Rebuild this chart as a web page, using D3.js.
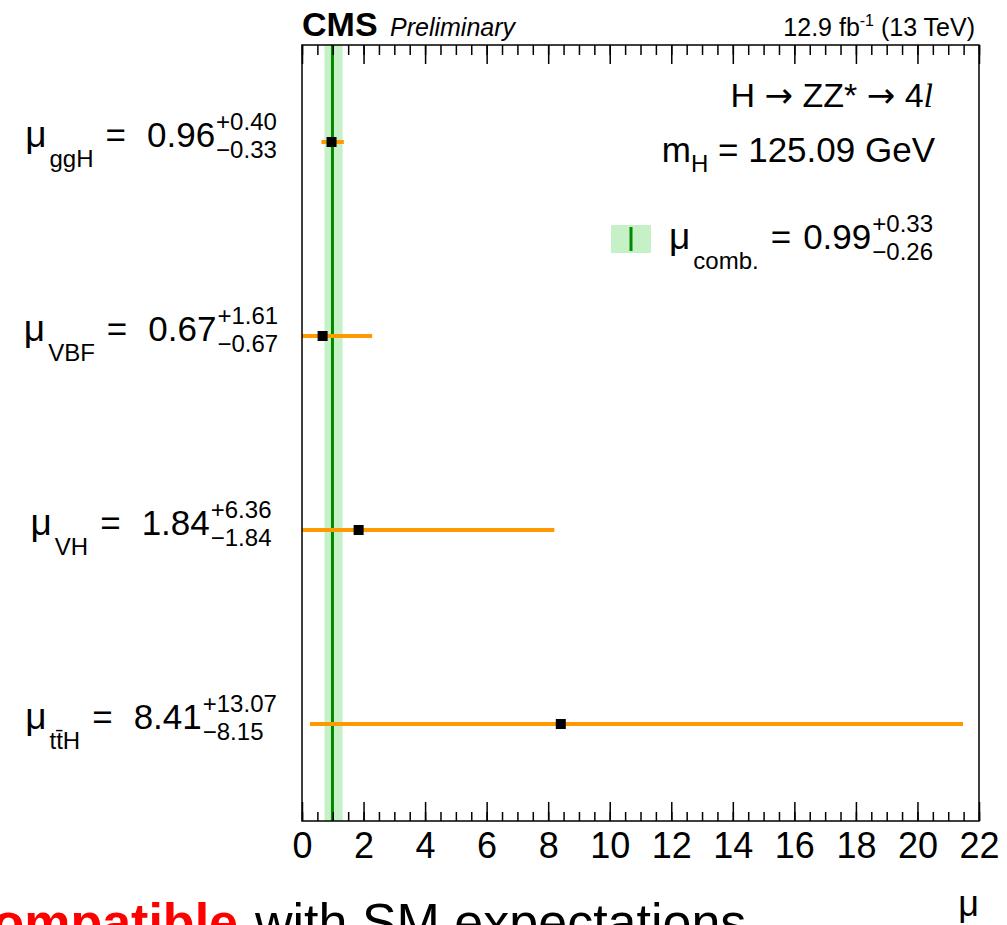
<!DOCTYPE html>
<html>
<head>
<meta charset="utf-8">
<script src="https://cdn.jsdelivr.net/npm/d3@7"></script>
<style>
  body { margin: 0; background: #fff; }
  svg { display: block; font-family: "Liberation Sans", Arial, sans-serif; }
</style>
</head>
<body>
<svg id="chart" width="1007" height="925"></svg>
<script>
// signal strengths per production mode
var categories = ["ggH", "VBF", "VH", "tt\u0304H"];
var muValues = [0.96, 0.67, 1.84, 8.41];
var errUp = [0.40, 1.61, 6.36, 13.07];
var errDown = [0.33, 0.67, 1.84, 8.15];
var labelValues = ["0.96", "0.67", "1.84", "8.41"];
var labelUp = ["+0.40", "+1.61", "+6.36", "+13.07"];
var labelDown = ["\u22120.33", "\u22120.67", "\u22121.84", "\u22128.15"];
// combined result
var comb = [0.99];
var combUp = [0.33];
var combDown = [0.26];
var majorTicks = d3.range(0, 23, 2);
var minorTicks = d3.range(0, 22.01, 0.5);

var svg = d3.select("#chart");
var pLeft = 302, pRight = 979, pTop = 45, pBottom = 821;

var x = d3.scaleLinear().domain([0, 22]).range([pLeft, pRight]);
var y = d3.scaleBand().domain(categories).range([pTop, pBottom]);

// combined band
svg.append("rect")
  .attr("x", x(comb[0] - combDown[0]))
  .attr("y", pTop)
  .attr("width", x(comb[0] + combUp[0]) - x(comb[0] - combDown[0]))
  .attr("height", pBottom - pTop)
  .attr("fill", "#c6f1c6");
svg.append("line")
  .attr("x1", x(comb[0])).attr("x2", x(comb[0]))
  .attr("y1", pTop).attr("y2", pBottom)
  .attr("stroke", "#008a00").attr("stroke-width", 3);

// error bars
var rows = categories.map(function(c, i) {
  return { cat: c, mu: muValues[i], up: errUp[i], down: errDown[i] };
});
svg.append("g").selectAll("line")
  .data(rows)
  .enter().append("line")
  .attr("x1", function(d) { return x(Math.max(0, d.mu - d.down)); })
  .attr("x2", function(d) { return x(d.mu + d.up); })
  .attr("y1", function(d) { return y(d.cat) + y.bandwidth() / 2; })
  .attr("y2", function(d) { return y(d.cat) + y.bandwidth() / 2; })
  .attr("stroke", "#ff9900").attr("stroke-width", 4);
svg.append("g").selectAll("rect")
  .data(rows)
  .enter().append("rect")
  .attr("x", function(d) { return x(d.mu) - 5; })
  .attr("y", function(d) { return y(d.cat) + y.bandwidth() / 2 - 5; })
  .attr("width", 10).attr("height", 10)
  .attr("fill", "#000");

// axes: major + minor ticks, bottom and top, pointing inward
function addTicks(axisFn, vals, size, ypos, labels) {
  var ax = axisFn(x).tickValues(vals).tickSizeInner(-size).tickSizeOuter(0);
  if (!labels) ax.tickFormat("");
  var g = svg.append("g").attr("transform", "translate(0," + ypos + ")").call(ax);
  g.select(".domain").remove();
  g.selectAll(".tick line").attr("stroke", "#000").attr("stroke-width", 1.5);
  return g;
}
addTicks(d3.axisBottom, minorTicks, 9, pBottom, false);
var gx = addTicks(d3.axisBottom, majorTicks, 19, pBottom, true);
gx.selectAll(".tick text")
  .attr("y", 37).attr("dy", 0)
  .attr("font-size", 36)
  .attr("font-family", "Liberation Sans, Arial, sans-serif")
  .attr("fill", "#000");
addTicks(d3.axisTop, minorTicks, 10, pTop, false);
addTicks(d3.axisTop, majorTicks, 19, pTop, false);

// frame
svg.append("rect")
  .attr("x", pLeft).attr("y", pTop)
  .attr("width", pRight - pLeft).attr("height", pBottom - pTop)
  .attr("fill", "none").attr("stroke", "#000").attr("stroke-width", 1.5);

// header
svg.append("text").attr("x", pLeft).attr("y", 36)
  .attr("font-size", 34).attr("font-weight", "bold").text("CMS");
svg.append("text").attr("x", 390).attr("y", 36)
  .attr("font-size", 25).attr("font-style", "italic").text("Preliminary");
var lumi = svg.append("text").attr("x", 975).attr("y", 36)
  .attr("font-size", 25).attr("text-anchor", "end");
lumi.append("tspan").text("12.9 fb");
lumi.append("tspan").attr("dy", -10).attr("font-size", 16).text("-1");
lumi.append("tspan").attr("dy", 10).text(" (13 TeV)");

var arrowFont = "DejaVu Sans, sans-serif";
var proc = svg.append("text").attr("x", 933).attr("y", 107)
  .attr("font-size", 34).attr("text-anchor", "end");
proc.append("tspan").text("H ");
proc.append("tspan").attr("font-family", arrowFont).text("\u2192");
proc.append("tspan").text(" ZZ* ");
proc.append("tspan").attr("font-family", arrowFont).text("\u2192");
proc.append("tspan").text(" 4");
proc.append("tspan").attr("font-family", "Liberation Serif, serif").attr("font-style", "italic").text("l");

var mh = svg.append("text").attr("x", 935).attr("y", 162)
  .attr("font-size", 35).attr("text-anchor", "end");
mh.append("tspan").text("m");
mh.append("tspan").attr("dy", 10).attr("font-size", 24).text("H");
mh.append("tspan").attr("dy", -10).text(" = 125.09 GeV");

// label builder: mu_sub = value^{+up}_{-down}
function muLabel(g, sub, val, up, down, big, small, gap) {
  var cx = 0;
  var t = g.append("text").attr("x", cx).attr("y", 0).attr("font-size", big + 2).text("\u03bc");
  cx += t.node().getComputedTextLength() + 3;
  t = g.append("text").attr("x", cx).attr("y", 20).attr("font-size", small).text(sub);
  cx += t.node().getComputedTextLength() + 12;
  t = g.append("text").attr("x", cx).attr("y", 0).attr("font-size", big).text("=");
  cx += t.node().getComputedTextLength() + gap;
  t = g.append("text").attr("x", cx).attr("y", 0).attr("font-size", big).text(val);
  cx += t.node().getComputedTextLength() + 1;
  var a = g.append("text").attr("x", cx).attr("y", -17).attr("font-size", small).text(up);
  var b = g.append("text").attr("x", cx).attr("y", 11).attr("font-size", small).text(down);
  return cx + Math.max(a.node().getComputedTextLength(), b.node().getComputedTextLength());
}

rows.forEach(function(d, i) {
  var g = svg.append("g");
  var w = muLabel(g, d.cat, labelValues[i], labelUp[i], labelDown[i], 35, 24, 21);
  var cy = y(d.cat) + y.bandwidth() / 2 + 5;
  g.attr("transform", "translate(" + (151 - w / 2) + "," + cy + ")");
});

// legend
svg.append("rect").attr("x", 611).attr("y", 225).attr("width", 40).attr("height", 28)
  .attr("fill", "#c6f1c6");
svg.append("line").attr("x1", 631).attr("x2", 631).attr("y1", 227).attr("y2", 251)
  .attr("stroke", "#008a00").attr("stroke-width", 3);
var lg = svg.append("g");
var lw = muLabel(lg, "comb.", comb[0].toFixed(2), "+" + combUp[0].toFixed(2), "\u2212" + combDown[0].toFixed(2), 35, 24, 12);
lg.attr("transform", "translate(" + (933 - lw) + ",249)");

// x axis title
svg.append("text").attr("x", 979).attr("y", 916).attr("font-size", 36)
  .attr("text-anchor", "end").text("\u03bc");

// slide caption (cut off by the frame)
svg.append("text").attr("x", 238).attr("y", 940).attr("font-size", 52)
  .attr("font-weight", "bold").attr("fill", "#ff0000").attr("text-anchor", "end")
  .text("compatible");
svg.append("text").attr("x", 255).attr("y", 940).attr("font-size", 52)
  .text("with SM expectations");
</script>
</body>
</html>
